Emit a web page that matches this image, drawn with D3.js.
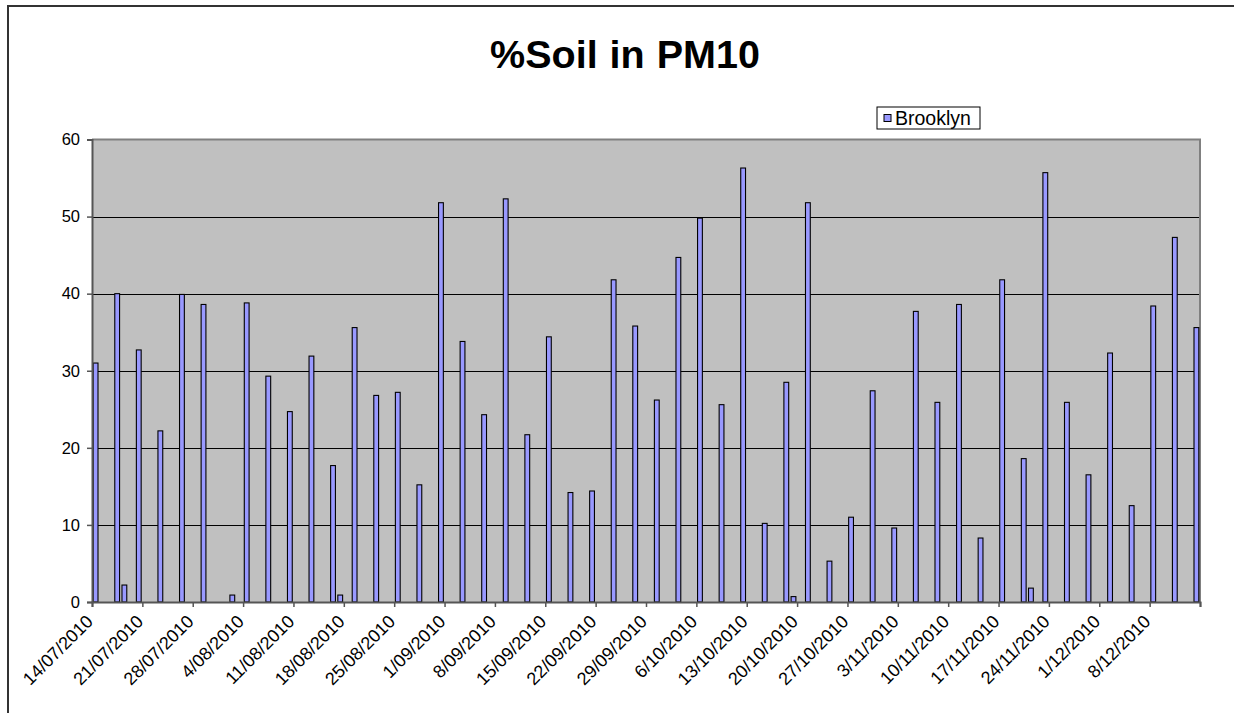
<!DOCTYPE html>
<html>
<head>
<meta charset="utf-8">
<script src="https://cdn.jsdelivr.net/npm/d3@7"></script>
<style>
  html, body { margin: 0; padding: 0; background: #fff; overflow: hidden; }
  svg { display: block; }
  text { font-family: Arial, "Liberation Sans", sans-serif; }
</style>
</head>
<body>
<svg id="chart" width="1234" height="713"></svg>
<script>
// sample dates (d/mm/yyyy) and % soil values for Brooklyn
const sampleDates = [
  "14/07/2010", "17/07/2010", "18/07/2010", "20/07/2010", "23/07/2010", "26/07/2010",
  "29/07/2010", "2/08/2010", "4/08/2010", "7/08/2010", "10/08/2010", "13/08/2010",
  "16/08/2010", "17/08/2010", "19/08/2010", "22/08/2010", "25/08/2010", "28/08/2010",
  "31/08/2010", "3/09/2010", "6/09/2010", "9/09/2010", "12/09/2010", "15/09/2010",
  "18/09/2010", "21/09/2010", "24/09/2010", "27/09/2010", "30/09/2010", "3/10/2010",
  "6/10/2010", "9/10/2010", "12/10/2010", "15/10/2010", "18/10/2010", "19/10/2010",
  "21/10/2010", "24/10/2010", "27/10/2010", "30/10/2010", "2/11/2010", "5/11/2010",
  "8/11/2010", "11/11/2010", "14/11/2010", "17/11/2010", "20/11/2010", "21/11/2010",
  "23/11/2010", "26/11/2010", "29/11/2010", "2/12/2010", "5/12/2010", "8/12/2010",
  "11/12/2010", "14/12/2010"
];
const brooklyn = [
  31.0, 40.0, 2.2, 32.7, 22.2, 39.9,
  38.6, 0.9, 38.8, 29.3, 24.7, 31.9,
  17.7, 0.9, 35.6, 26.8, 27.2, 15.2,
  51.8, 33.8, 24.3, 52.3, 21.7, 34.4,
  14.2, 14.4, 41.8, 35.8, 26.2, 44.7,
  49.8, 25.6, 56.3, 10.2, 28.5, 0.7,
  51.8, 5.3, 11.0, 27.4, 9.6, 37.7,
  25.9, 38.6, 8.3, 41.8, 18.6, 1.8,
  55.7, 25.9, 16.5, 32.3, 12.5, 38.4,
  47.3, 35.6
];
const weekLabels = [
  "14/07/2010", "21/07/2010", "28/07/2010", "4/08/2010", "11/08/2010", "18/08/2010",
  "25/08/2010", "1/09/2010", "8/09/2010", "15/09/2010", "22/09/2010", "29/09/2010",
  "6/10/2010", "13/10/2010", "20/10/2010", "27/10/2010", "3/11/2010", "10/11/2010",
  "17/11/2010", "24/11/2010", "1/12/2010", "8/12/2010"
];
const yTicks = [0, 10, 20, 30, 40, 50, 60];

const parse = d3.utcParse("%d/%m/%Y");
const data = sampleDates.map((s, i) => ({ date: parse(s), value: brooklyn[i] }));

const svg = d3.select("#chart");
const plotLeft = 92, plotTop = 139.5, plotRight = 1200, plotBottom = 602;

svg.append("rect")
  .attr("width", 1234).attr("height", 713)
  .attr("fill", "#fff");

// outer chart frame: top and left edges only
svg.append("line")
  .attr("x1", 8).attr("x2", 1234).attr("y1", 6).attr("y2", 6)
  .attr("stroke", "#333").attr("stroke-width", 2);
svg.append("line")
  .attr("x1", 8).attr("x2", 8).attr("y1", 5).attr("y2", 713)
  .attr("stroke", "#333").attr("stroke-width", 2);

const start = parse(weekLabels[0]);
const end = d3.utcDay.offset(parse(sampleDates[sampleDates.length - 1]), 1);

const x = d3.scaleUtc().domain([start, end]).range([plotLeft, plotRight]);
const y = d3.scaleLinear().domain([0, 60]).range([plotBottom, plotTop]);

// plot background
svg.append("rect")
  .attr("x", plotLeft).attr("y", plotTop)
  .attr("width", plotRight - plotLeft).attr("height", plotBottom - plotTop)
  .attr("fill", "#c0c0c0");

// gridlines
svg.append("g")
  .selectAll("line")
  .data(yTicks.filter(v => v > 0 && v < 60))
  .join("line")
  .attr("x1", plotLeft).attr("x2", plotRight)
  .attr("y1", d => Math.round(y(d)) + 0.5).attr("y2", d => Math.round(y(d)) + 0.5)
  .attr("stroke", "#000").attr("stroke-width", 1);

// plot border top / right
svg.append("path")
  .attr("d", `M${plotLeft},${plotTop}H${plotRight}V${plotBottom}`)
  .attr("fill", "none")
  .attr("stroke", "#808080").attr("stroke-width", 2);

// bars
const slot = x(d3.utcDay.offset(start, 1)) - x(start);
const barW = 4.8;
svg.append("g")
  .selectAll("rect")
  .data(data)
  .join("rect")
  .attr("x", d => x(d.date) + slot / 2 - barW / 2)
  .attr("y", d => y(d.value))
  .attr("width", barW)
  .attr("height", d => y(0) - y(d.value))
  .attr("fill", "#9999ff")
  .attr("stroke", "#000").attr("stroke-width", 1.1);

// y axis
const yAxis = svg.append("g")
  .attr("transform", `translate(${plotLeft},0)`)
  .call(d3.axisLeft(y).tickValues(yTicks).tickSize(5).tickPadding(7));
yAxis.select(".domain").attr("stroke", "#555").attr("stroke-width", 2);
yAxis.selectAll(".tick line").attr("stroke", "#555").attr("stroke-width", 1.5);
yAxis.selectAll(".tick text")
  .attr("font-size", 16.5).attr("fill", "#000")
  .attr("font-family", "Arial, 'Liberation Sans', sans-serif");

// x axis: weekly ticks from the first sample date
const weekTicks = d3.utcDay.range(start, d3.utcDay.offset(end, 1), 7);
const xAxis = svg.append("g")
  .attr("transform", `translate(0,${plotBottom})`)
  .call(d3.axisBottom(x).tickValues(weekTicks).tickSize(5).tickFormat((d, i) => weekLabels[i] || ""));
xAxis.select(".domain").attr("stroke", "#555").attr("stroke-width", 2);
xAxis.selectAll(".tick line").attr("stroke", "#555").attr("stroke-width", 1.5);
xAxis.selectAll(".tick text")
  .attr("font-size", 18).attr("fill", "#000")
  .attr("font-family", "Arial, 'Liberation Sans', sans-serif")
  .attr("text-anchor", "end")
  .attr("transform", "translate(-8,11) rotate(-45)")
  .attr("y", 0).attr("dy", "0.75em");

// title
svg.append("text")
  .attr("x", 625).attr("y", 68)
  .attr("text-anchor", "middle")
  .attr("font-size", 39.5).attr("font-weight", "bold")
  .attr("word-spacing", 1)
  .text("%Soil in PM10");

// legend
const lg = svg.append("g").attr("transform", "translate(877,107)");
lg.append("rect")
  .attr("width", 103).attr("height", 22)
  .attr("fill", "#fff").attr("stroke", "#000").attr("stroke-width", 1);
lg.append("rect")
  .attr("x", 7).attr("y", 7.5).attr("width", 7).attr("height", 7)
  .attr("fill", "#9999ff").attr("stroke", "#000").attr("stroke-width", 1);
lg.append("text")
  .attr("x", 18).attr("y", 17.5)
  .attr("font-size", 19.5)
  .text("Brooklyn");
</script>
</body>
</html>
